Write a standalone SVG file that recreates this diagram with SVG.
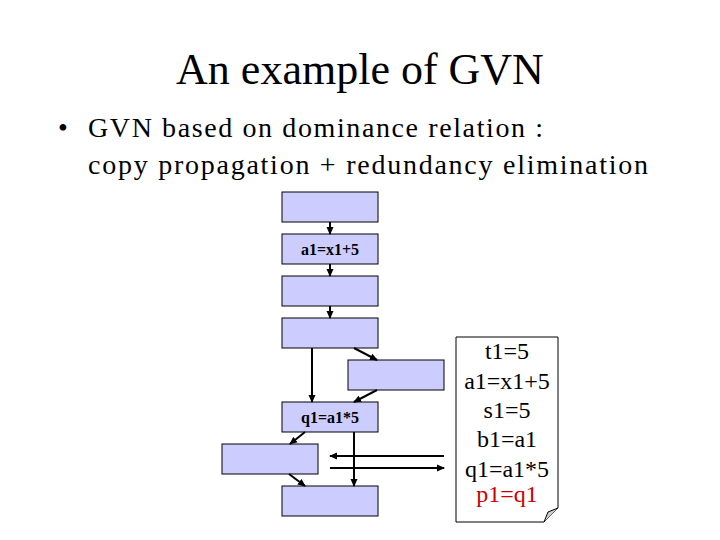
<svg xmlns="http://www.w3.org/2000/svg" width="720" height="540" viewBox="0 0 720 540">
<defs><marker id="ah" markerWidth="8" markerHeight="8" refX="7" refY="4" orient="auto" markerUnits="userSpaceOnUse"><path d="M0,0.5 L8,4 L0,7.5 z" fill="#000"/></marker></defs>
<style>
.b{fill:#ccccff;stroke:#000;stroke-width:1}
.bl{font-weight:bold;font-size:16px;text-anchor:middle}
.n{font-size:24px;text-anchor:middle}
.c line{stroke:#000;stroke-width:2;marker-end:url(#ah)}
</style>
<rect width="720" height="540" fill="#fff"/>
<g font-family="Liberation Serif, Times New Roman, serif">
<text x="360" y="84" font-size="44" text-anchor="middle">An example of GVN</text>
<text x="58" y="137" font-size="28">•</text>
<text x="88" y="137" font-size="28" textLength="455" lengthAdjust="spacing">GVN based on dominance relation :</text>
<text x="88" y="174" font-size="28" textLength="560" lengthAdjust="spacing">copy propagation + redundancy elimination</text>
<g id="n1"><rect class="b" x="282" y="192" width="96" height="30"/></g>
<g id="n2"><rect class="b" x="282" y="234" width="96" height="30"/><text class="bl" x="330" y="255">a1=x1+5</text></g>
<g id="n3"><rect class="b" x="282" y="276" width="96" height="30"/></g>
<g id="n4"><rect class="b" x="282" y="318" width="96" height="30"/></g>
<g id="n5"><rect class="b" x="348" y="360" width="96" height="30"/></g>
<g id="n6"><rect class="b" x="282" y="402" width="96" height="30"/><text class="bl" x="330" y="423">q1=a1*5</text></g>
<g id="n7"><rect class="b" x="222" y="444" width="96" height="30"/></g>
<g id="n8"><rect class="b" x="282" y="486" width="96" height="30"/></g>
<g id="note">
<path d="M456,337 H558 V508 L544,522 H456 Z" fill="#fff" stroke="#000"/>
<path d="M544,522 L548,512 L558,508" fill="#ccc" stroke="#000"/>
<text class="n" x="507" y="359">t1=5</text>
<text class="n" x="507" y="389">a1=x1+5</text>
<text class="n" x="507" y="418">s1=5</text>
<text class="n" x="507" y="447">b1=a1</text>
<text class="n" x="507" y="477">q1=a1*5</text>
<text class="n" x="507" y="502" fill="#cc0000">p1=q1</text>
</g>
</g>
<g class="c" id="connectors">
<line x1="330" y1="222" x2="330" y2="234"/>
<line x1="330" y1="264" x2="330" y2="276"/>
<line x1="330" y1="306" x2="330" y2="318"/>
<line x1="312" y1="348" x2="312" y2="402"/>
<line x1="354" y1="348" x2="377" y2="360"/>
<line x1="377" y1="390" x2="354" y2="402"/>
<line x1="305" y1="432" x2="290" y2="444"/>
<line x1="289" y1="474" x2="305" y2="486"/>
<line x1="354" y1="432" x2="354" y2="486"/>
<line x1="444" y1="456" x2="330" y2="456"/>
<line x1="330" y1="468" x2="444" y2="468"/>
</g>
</svg>
